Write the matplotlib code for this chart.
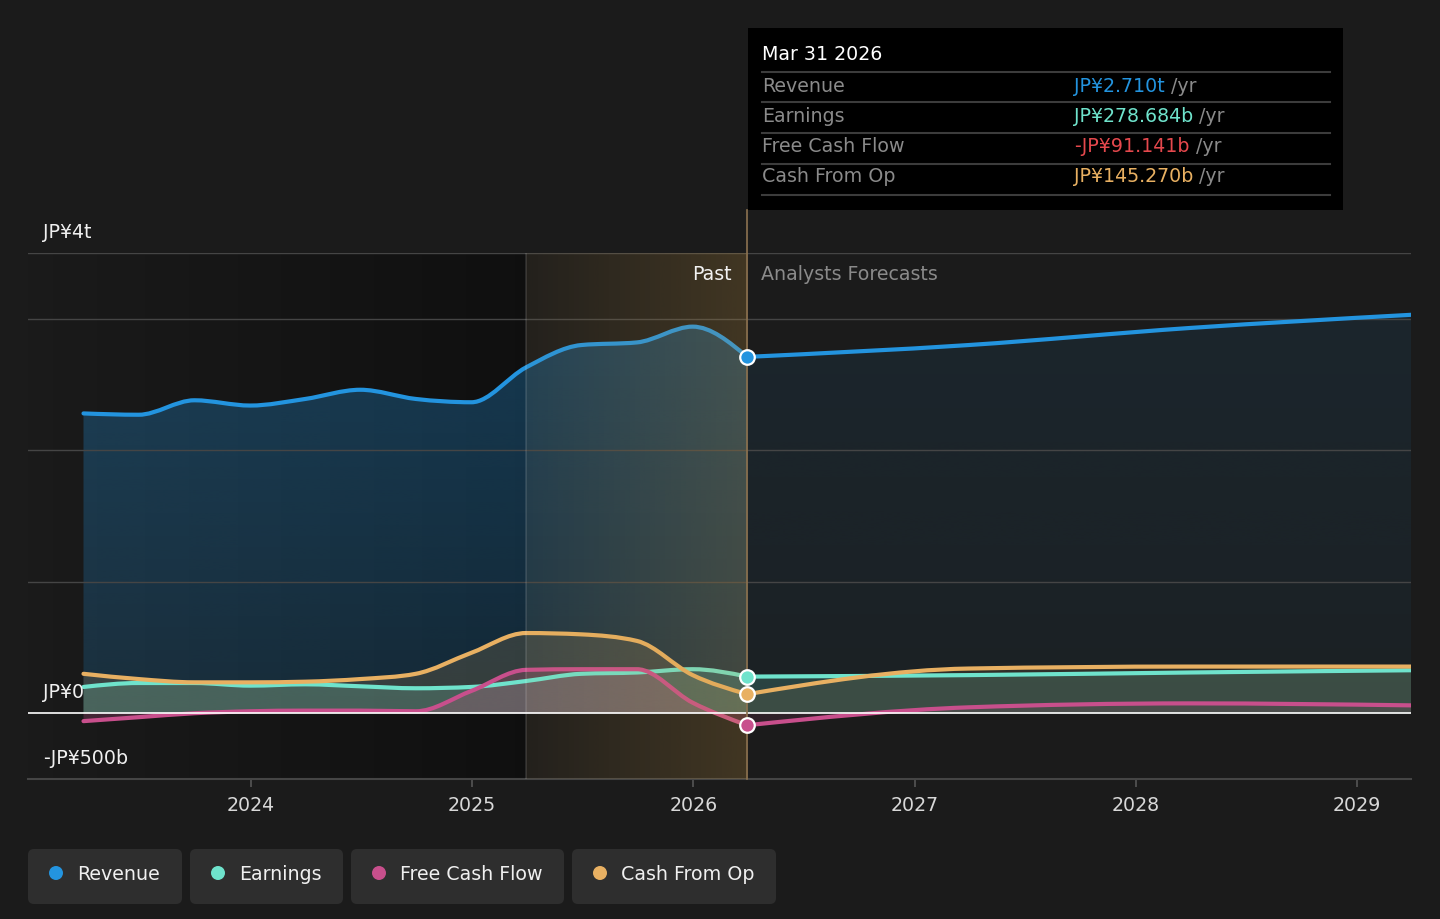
import numpy as np
import matplotlib
matplotlib.use('Agg')
import matplotlib.pyplot as plt
from matplotlib.path import Path
from matplotlib.patches import PathPatch, FancyBboxPatch, Rectangle, Circle
from matplotlib.text import Annotation
import matplotlib.transforms as mtransforms
from datetime import date

# ---------------- data (trillions of JP¥) ----------------
past_dates = ['2023-03-31', '2023-06-30', '2023-09-30', '2023-12-31', '2024-03-31', '2024-06-30',
              '2024-09-30', '2024-12-31', '2025-03-31', '2025-06-30', '2025-09-30', '2025-12-31',
              '2026-03-31']
fcst_dates = ['2026-03-31', '2027-03-31', '2028-03-31', '2029-03-31']

revenue_past = [2.28, 2.27, 2.38, 2.34, 2.39, 2.46, 2.39, 2.365, 2.63, 2.80, 2.82, 2.94, 2.710]
earnings_past = [0.20, 0.23, 0.23, 0.21, 0.22, 0.205, 0.19, 0.20, 0.245, 0.30, 0.31, 0.335, 0.278684]
fcf_past = [-0.06, -0.03, 0.0, 0.015, 0.02, 0.02, 0.015, 0.17, 0.33, 0.335, 0.335, 0.08, -0.091141]
cfo_past = [0.30, 0.26, 0.235, 0.235, 0.24, 0.26, 0.30, 0.46, 0.61, 0.60, 0.55, 0.29, 0.14527]

revenue_fcst = [2.710, 2.80, 2.93, 3.03]
earnings_fcst = [0.278684, 0.29, 0.31, 0.327]
fcf_fcst = [-0.091141, 0.045, 0.075, 0.06]
cfo_fcst = [0.14527, 0.34, 0.355, 0.355]

series_names = ['Revenue', 'Earnings', 'Free Cash Flow', 'Cash From Op']
series_colors = ['#2394df', '#6fe3cc', '#c84f8c', '#e8b062']
tooltip_date = 'Mar 31 2026'
tooltip_values = ['JP¥2.710t', 'JP¥278.684b', '-JP¥91.141b', 'JP¥145.270b']
tooltip_value_colors = ['#2394df', '#6fe3cc', '#e5484d', '#e8b062']
year_ticks = [2024, 2025, 2026, 2027, 2028, 2029]
y_label_vals = [3.5, 0.0, -0.5]
y_label_txt = ['JP¥4t', 'JP¥0', '-JP¥500b']
grid_vals = [3.5, 3.0, 2.0, 1.0, -0.5]
highlight_start = '2025-03-31'


def dec_year(s):
    d = date.fromisoformat(s)
    start = date(d.year, 1, 1)
    ndays = (date(d.year + 1, 1, 1) - start).days
    return d.year + (d - start).days / ndays


px = np.array([dec_year(s) for s in past_dates])
fx_ = np.array([dec_year(s) for s in fcst_dates])
hl0 = dec_year(highlight_start)
split = px[-1]


def mono_verts(x, y):
    x = np.asarray(x, float)
    y = np.asarray(y, float)
    n = len(x)
    h = np.diff(x)
    s = np.diff(y) / h
    t = np.zeros(n)
    for i in range(1, n - 1):
        if s[i - 1] * s[i] > 0:
            p = (s[i - 1] * h[i] + s[i] * h[i - 1]) / (h[i - 1] + h[i])
            t[i] = np.sign(s[i - 1]) * min(2 * abs(s[i - 1]), 2 * abs(s[i]), abs(p))
    if n > 2:
        t[0] = (3 * s[0] - t[1]) / 2
        t[-1] = (3 * s[-1] - t[-2]) / 2
    else:
        t[0] = t[-1] = s[0]
    verts = [(x[0], y[0])]
    codes = [Path.MOVETO]
    for i in range(n - 1):
        verts += [(x[i] + h[i] / 3, y[i] + h[i] * t[i] / 3),
                  (x[i + 1] - h[i] / 3, y[i + 1] - h[i] * t[i + 1] / 3),
                  (x[i + 1], y[i + 1])]
        codes += [Path.CURVE4] * 3
    return verts, codes


def line_path(x, y):
    v, c = mono_verts(x, y)
    return Path(v, c)


def fill_path(x, y):
    v, c = mono_verts(x, y)
    v = v + [(x[-1], 0.0), (x[0], 0.0), (x[0], 0.0)]
    c = c + [Path.LINETO, Path.LINETO, Path.CLOSEPOLY]
    return Path(v, c)


W, H = 1440, 919
BG = '#1b1b1b'
fig = plt.figure(figsize=(W / 100, H / 100), dpi=100, facecolor=BG)
L, R, T, B = 28, 1411, 253, 779
ax = fig.add_axes([L / W, 1 - B / H, (R - L) / W, (B - T) / H])
ax.set_facecolor(BG)
XMIN, XMAX = 2022.993, fx_[-1]
YMIN, YMAX = -0.5, 3.5
ax.set_xlim(XMIN, XMAX)
ax.set_ylim(YMIN, YMAX)
for sp in ax.spines.values():
    sp.set_visible(False)
ax.set_yticks([])

# dark gradient for the left (older past) region
g = np.zeros((1, 256, 4))
g[..., 3] = np.linspace(0.02, 0.42, 256)
ax.imshow(g, extent=[XMIN, hl0, YMIN, YMAX], aspect='auto', zorder=0.5, interpolation='bicubic')


def grad_fill(path, color, a_top, a_bot, xr, z=1.0):
    rgb = matplotlib.colors.to_rgb(color)
    img = np.zeros((256, 1, 4))
    img[..., :3] = rgb
    img[:, 0, 3] = np.linspace(a_top, a_bot, 256)
    im = ax.imshow(img, extent=[xr[0], xr[1], YMIN, YMAX], aspect='auto', zorder=z,
                   interpolation='bicubic')
    patch = PathPatch(path, transform=ax.transData, facecolor='none', edgecolor='none')
    ax.add_patch(patch)
    im.set_clip_path(patch)


past_sets = [revenue_past, earnings_past, fcf_past, cfo_past]
fcst_sets = [revenue_fcst, earnings_fcst, fcf_fcst, cfo_fcst]
past_alpha = [(0.34, 0.16), (0.22, 0.22), (0.25, 0.25), (0.16, 0.16)]
fcst_alpha = [(0.10, 0.04), (0.18, 0.18), (0.12, 0.12), (0.10, 0.10)]
for k in range(4):
    grad_fill(fill_path(px, past_sets[k]), series_colors[k], *past_alpha[k], (XMIN, split), z=1 + k * 0.01)
    grad_fill(fill_path(fx_, fcst_sets[k]), series_colors[k], *fcst_alpha[k], (split, XMAX), z=1 + k * 0.01)

# grid lines
for gv in grid_vals:
    ax.axhline(gv, color='#454545', lw=1.0, zorder=2)
ax.axhline(0, color='#ffffff', lw=1.2, zorder=5)

# series lines
for k in range(4):
    for xs, ys in ((px, past_sets[k]), (fx_, fcst_sets[k])):
        ax.add_patch(PathPatch(line_path(xs, ys), facecolor='none', edgecolor=series_colors[k],
                               lw=3.0, capstyle='round', joinstyle='round', zorder=3 + k * 0.01))

# highlighted past year overlay (brown gradient)
hg = np.zeros((1, 256, 4))
hg[..., 0], hg[..., 1], hg[..., 2] = 0.80, 0.60, 0.25
hg[..., 3] = np.linspace(0.05, 0.22, 256)
ax.imshow(hg, extent=[hl0, split, YMIN, YMAX], aspect='auto', zorder=4, interpolation='bicubic')
ax.axvline(hl0, color='#ffffff', alpha=0.13, lw=1.2, zorder=4.1)
ax.set_xlim(XMIN, XMAX)
ax.set_ylim(YMIN, YMAX)

# divider line past / forecast
ax.plot([split, split], [YMIN, YMAX + 43 / 131.5], color='#8c7250', lw=1.2, zorder=5,
        clip_on=False)

# markers at the split date
for k in range(4):
    ax.scatter([split], [past_sets[k][-1]], s=110, color=series_colors[k], edgecolor='white',
               linewidth=1.6, zorder=7)

FS = 13.7
# x ticks
ax.set_xticks(year_ticks)
ax.set_xticklabels([str(y) for y in year_ticks])
ax.tick_params(axis='x', colors='#555555', length=6, width=1.2, labelcolor='#d8d8d8',
               labelsize=FS, pad=6)
ax.axhline(YMIN, color='#454545', lw=1.5, zorder=2, clip_on=False)

# y labels
for v, t in zip(y_label_vals, y_label_txt):
    tr = mtransforms.offset_copy(ax.transData, fig=fig, x=0, y=21, units='dots')
    ax.text(2023.06, v, t, transform=tr, color='#f0f0f0', fontsize=FS, va='center', ha='left',
            zorder=8)

# Past / Analysts Forecasts labels
ax.text(split, 3.5, 'Past', transform=mtransforms.offset_copy(ax.transData, fig=fig, x=-15, y=-21, units='dots'),
        color='#f2f2f2', fontsize=FS, ha='right', va='center', zorder=8)
ax.text(split, 3.5, 'Analysts Forecasts', transform=mtransforms.offset_copy(ax.transData, fig=fig, x=14, y=-21, units='dots'),
        color='#8a8a8a', fontsize=FS, ha='left', va='center', zorder=8)

# ---------------- tooltip ----------------
ID = mtransforms.IdentityTransform()


def P(xp, yp):
    return xp, H - yp


fig.patches.append(Rectangle(P(748, 210), 595, 182, transform=ID, facecolor='#000000',
                             edgecolor='none', zorder=10))
fig.text(*P(762, 55), tooltip_date, transform=ID, color='#ffffff', fontsize=FS, va='center',
         ha='left', zorder=11)
for yy in [72, 102, 133, 164, 195]:
    fig.lines.append(plt.Line2D([762, 1330], [H - yy, H - yy], transform=ID, color='#3c3c3c',
                                lw=1.5, zorder=11))
row_y = [86, 116, 147, 177]
for k in range(4):
    fig.text(*P(762, row_y[k]), series_names[k], transform=ID, color='#8a8a8a', fontsize=FS,
             va='center', ha='left', zorder=11)
    tv = fig.text(*P(1074, row_y[k]), tooltip_values[k], transform=ID,
                  color=tooltip_value_colors[k], fontsize=FS, va='center', ha='left', zorder=11)
    ann = Annotation(' /yr', xy=(1, 0.5), xycoords=tv, va='center', ha='left',
                     color='#8a8a8a', fontsize=FS, zorder=12)
    fig.add_artist(ann)

# ---------------- legend ----------------
boxes = [(28, 182), (190, 343), (351, 564), (572, 776)]
for k, (x0, x1) in enumerate(boxes):
    fig.patches.append(FancyBboxPatch(P(x0, 904), x1 - x0, 55, transform=ID,
                                      boxstyle='round,pad=0,rounding_size=6',
                                      facecolor='#2e2e2e', edgecolor='none', zorder=10))
    fig.patches.append(Circle(P(x0 + 28, 873), 7, transform=ID, facecolor=series_colors[k],
                              edgecolor='none', zorder=11))
    fig.text(*P(x0 + 49, 874), series_names[k], transform=ID, color='#f0f0f0', fontsize=FS,
             va='center', ha='left', zorder=11)

fig.savefig('out.png', dpi=100, facecolor=BG)
